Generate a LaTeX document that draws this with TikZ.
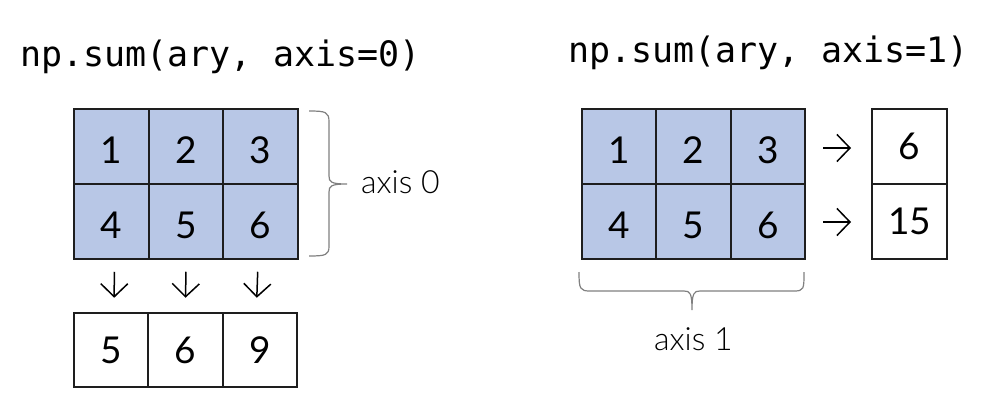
\documentclass[tikz,border=0pt]{standalone}
\usepackage{fontspec}
\usetikzlibrary{arrows.meta}
\newfontfamily\digitfont{Lato}
\newfontfamily\lightfont{Lato Light}
\newfontfamily\codefont{DejaVu Sans Mono}
\definecolor{cellblue}{HTML}{B8C7E6}
\definecolor{gridline}{HTML}{1E1E1E}
\definecolor{bracegray}{HTML}{808080}
\begin{document}
\begin{tikzpicture}[x=1pt,y=-1pt,
  cell/.style={draw=gridline, line width=2pt, minimum width=74.5pt, minimum height=74.5pt, inner sep=0pt, text=black, font=\digitfont\fontsize{37}{37}\selectfont},
  bluecell/.style={cell, fill=cellblue, text height=34.5pt, text depth=0pt},
  arr/.style={draw=black, line width=1.5pt, -{Straight Barb[length=13pt,width=27pt]}},
  bracepath/.style={draw=bracegray, line width=1.2pt},
  code/.style={font=\codefont\fontsize{35}{35}\selectfont, anchor=base west, inner sep=0pt},
  axislabel/.style={font=\lightfont\fontsize{32}{32}\selectfont, anchor=base west, inner sep=0pt}
]
\useasboundingbox (0,0) rectangle (1000,409);

% titles
\node[code] (t0) at (20,67) {np.sum(ary, axis=0)};
\node[code] (t1) at (568,63) {np.sum(ary, axis=1)};

% left grid
\node[bluecell] (a1) at (111.3,146.5) {1};
\node[bluecell] (a2) at (186,146.5) {2};
\node[bluecell] (a3) at (260.7,146.5) {3};
\node[bluecell] (a4) at (111.3,221.5) {4};
\node[bluecell] (a5) at (186,221.5) {5};
\node[bluecell] (a6) at (260.7,221.5) {6};

% left result
\node[cell] (c1) at (111.2,350) {5};
\node[cell] (c2) at (185.5,350) {6};
\node[cell] (c3) at (259.8,350) {9};

\draw[arr] ([xshift=3pt,yshift=-12pt]a4.south) -- ([xshift=3pt,yshift=14pt]c1.north);
\draw[arr] ([yshift=-12pt]a5.south) -- ([yshift=14pt]c2.north);
\draw[arr] ([xshift=-3pt,yshift=-12pt]a6.south) -- ([xshift=-3pt,yshift=14pt]c3.north);

% left brace
\draw[bracepath] (309,111) .. controls (326,111) and (329,112) .. (329,122) -- (329,176)
  .. controls (329,182) and (331,184) .. (347,184)
  .. controls (331,184) and (329,186) .. (329,192) -- (329,246)
  .. controls (329,255) and (326,256) .. (309,256);
\node[axislabel] (l0) at (361,193) {axis 0};

% right grid
\node[bluecell] (b1) at (619.2,146.5) {1};
\node[bluecell] (b2) at (693.5,146.5) {2};
\node[bluecell] (b3) at (767.8,146.5) {3};
\node[bluecell] (b4) at (619.2,221.5) {4};
\node[bluecell] (b5) at (693.5,221.5) {5};
\node[bluecell] (b6) at (767.8,221.5) {6};

% right result
\node[cell, minimum width=75pt] (r1) at (909.5,146.5) {6};
\node[cell, minimum width=75pt] (r2) at (909.5,221.5) {15};

\draw[arr] ([xshift=17pt,yshift=-1.5pt]b3.east) -- ([xshift=-20pt,yshift=-1.5pt]r1.west);
\draw[arr] ([xshift=17pt,yshift=-0.5pt]b6.east) -- ([xshift=-20pt,yshift=-0.5pt]r2.west);

% bottom brace
\draw[bracepath] (579,272) .. controls (579,289) and (580,291) .. (590,291) -- (684,291)
  .. controls (690,291) and (692,293) .. (692,310)
  .. controls (692,293) and (694,291) .. (700,291) -- (794,291)
  .. controls (804,291) and (804,289) .. (804,272);
\node[axislabel] (l1) at (654,350) {axis 1};
\end{tikzpicture}
\end{document}
